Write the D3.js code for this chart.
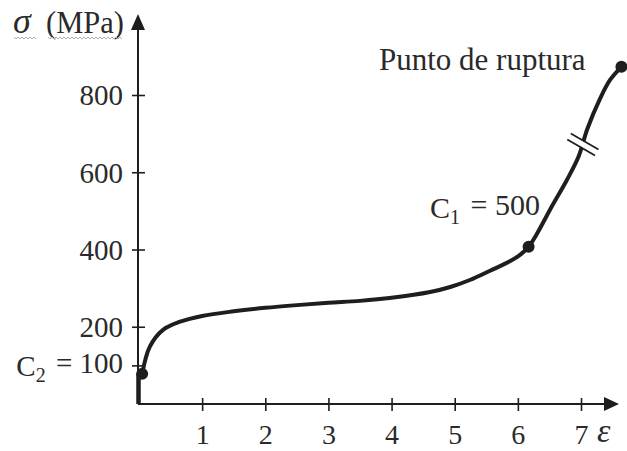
<!DOCTYPE html>
<html><head><meta charset="utf-8">
<script src="https://cdn.jsdelivr.net/npm/d3@7"></script>
<style>
html,body{margin:0;padding:0;background:#fff;}
svg text{font-family:"Liberation Serif","DejaVu Serif",serif;fill:#2a2a2a;}
</style></head>
<body>
<svg id="c" width="627" height="451"></svg>
<script>
// ---- data ----
const strain = [0, 0.05, 0.17, 0.38, 0.65, 1.0, 1.5, 2.0, 2.5, 3.0, 3.5, 4.0, 4.61, 4.93, 5.24, 5.56, 5.88, 6.05, 6.17, 6.30, 6.55, 6.77, 6.96, 7.10, 7.30, 7.46, 7.64];
const stress = [0, 78, 148, 192, 213, 228, 240, 249, 256, 262, 267, 275, 290, 303, 321, 345, 370, 388, 407, 440, 515, 578, 640, 712, 790, 839, 873];
const dotStrain = [0.05, 6.17, 7.64];
const dotStress = [78, 407, 873];
const xTicks = [1, 2, 3, 4, 5, 6, 7];
const yTicks = [100, 200, 400, 600, 800];
const breakStrain = 7.03;
const breakStress = 672;

const svg = d3.select("#c");
const ink = "#1e1e1e";
const x = d3.scaleLinear().domain([0, 7]).range([139, 581]);
const y = d3.scaleLinear().domain([0, 800]).range([404, 95]);

// axes
const xAxis = d3.axisBottom(x).tickValues(xTicks).tickSize(12).tickFormat(d3.format("d"));
const gx = svg.append("g").attr("transform", `translate(0,${y(0)})`).call(xAxis);
gx.select(".domain").remove();
gx.selectAll(".tick line").attr("y1", -6).attr("y2", 7).attr("stroke", ink).attr("stroke-width", 1.6);
gx.selectAll(".tick text").attr("y", 40).attr("dy", 0).style("font-size", "28px").attr("fill", "#2a2a2a");

const yAxis = d3.axisLeft(y).tickValues(yTicks).tickSize(12).tickFormat(d3.format("d"));
const gy = svg.append("g").attr("transform", `translate(${x(0) - 1},0)`).call(yAxis);
gy.select(".domain").remove();
gy.selectAll(".tick line").attr("x1", 7).attr("x2", -6).attr("stroke", ink).attr("stroke-width", 1.6);
gy.selectAll(".tick text").attr("x", -15).attr("dy", "0.34em").style("font-size", "29px").attr("fill", "#2a2a2a");
gy.selectAll(".tick").filter(d => d === 100).select("text").each(function () {
  const t = d3.select(this).text("");
  t.append("tspan").text("C");
  t.append("tspan").attr("dy", "0.3em").style("font-size", "20px").text("2");
  t.append("tspan").attr("dy", "-0.3em").attr("dx", 3).text(" = 100");
});

// axis lines with arrows
const x0 = x(0) - 1, y0 = y(0);
svg.append("line").attr("x1", x0).attr("y1", y0).attr("x2", 607).attr("y2", y0).attr("stroke", ink).attr("stroke-width", 2);
svg.append("path").attr("d", `M619,${y0} L604,${y0 - 7} L604,${y0 + 7} Z`).attr("fill", ink);
svg.append("line").attr("x1", x0).attr("y1", y0).attr("x2", x0).attr("y2", 26).attr("stroke", ink).attr("stroke-width", 2);
svg.append("path").attr("d", `M${x0},14 L${x0 - 7},30 L${x0 + 7},30 Z`).attr("fill", ink);

// curve: vertical start, then smooth curve from first dot
const pts = strain.map((s, i) => [s, stress[i]]);
svg.append("path").datum(pts.slice(0, 2))
  .attr("d", d3.line().x(() => x0 + 0.5).y(d => y(d[1])))
  .attr("fill", "none").attr("stroke", ink).attr("stroke-width", 4.5);
const line = d3.line().x(d => x(d[0])).y(d => y(d[1])).curve(d3.curveCatmullRom.alpha(0.5));
svg.append("path").datum(pts.slice(1)).attr("d", line).attr("fill", "none").attr("stroke", ink).attr("stroke-width", 4).attr("stroke-linecap", "round");

// break marks
const bx = x(breakStrain), by = y(breakStress);
const bg = svg.append("g").attr("transform", `translate(${bx},${by}) rotate(30)`);
bg.append("rect").attr("x", -15).attr("y", -3).attr("width", 30).attr("height", 6).attr("fill", "#fff");
bg.append("line").attr("x1", -16).attr("x2", 16).attr("y1", -3.5).attr("y2", -3.5).attr("stroke", ink).attr("stroke-width", 1.8);
bg.append("line").attr("x1", -16).attr("x2", 16).attr("y1", 3.5).attr("y2", 3.5).attr("stroke", ink).attr("stroke-width", 1.8);

// dots
svg.selectAll("circle.dot").data(dotStrain).join("circle").attr("class", "dot")
  .attr("cx", d => x(d)).attr("cy", (d, i) => y(dotStress[i])).attr("r", 6).attr("fill", ink);

// labels
svg.append("text").attr("x", 13).attr("y", 33).style("font-size", "36px").style("font-style", "italic").text("σ");
svg.append("text").attr("x", 46).attr("y", 33).style("font-size", "30.5px").text("(MPa)");
// spell-check squiggle
function squiggle(x1, x2, yy) {
  let d = `M${x1},${yy}`;
  for (let xx = x1 + 2, k = 0; xx <= x2; xx += 2, k++) d += ` L${xx},${yy + (k % 2 ? 0 : 2)}`;
  svg.append("path").attr("d", d).attr("fill", "none").attr("stroke", "#b9a9a9").attr("stroke-width", 1);
}
squiggle(14, 36, 37);
squiggle(48, 122, 37);

svg.append("text").attr("x", 379).attr("y", 70).style("font-size", "31px").text("Punto de ruptura");

const c1 = svg.append("text").attr("x", 430).attr("y", 218).style("font-size", "30px");
c1.append("tspan").text("C");
c1.append("tspan").attr("dy", "0.3em").style("font-size", "20px").text("1");
c1.append("tspan").attr("dy", "-0.3em").attr("dx", 3).text(" = 500");

svg.append("text").attr("x", 597).attr("y", 442).style("font-size", "34px").style("font-style", "italic").text("ε");
</script>
</body></html>
